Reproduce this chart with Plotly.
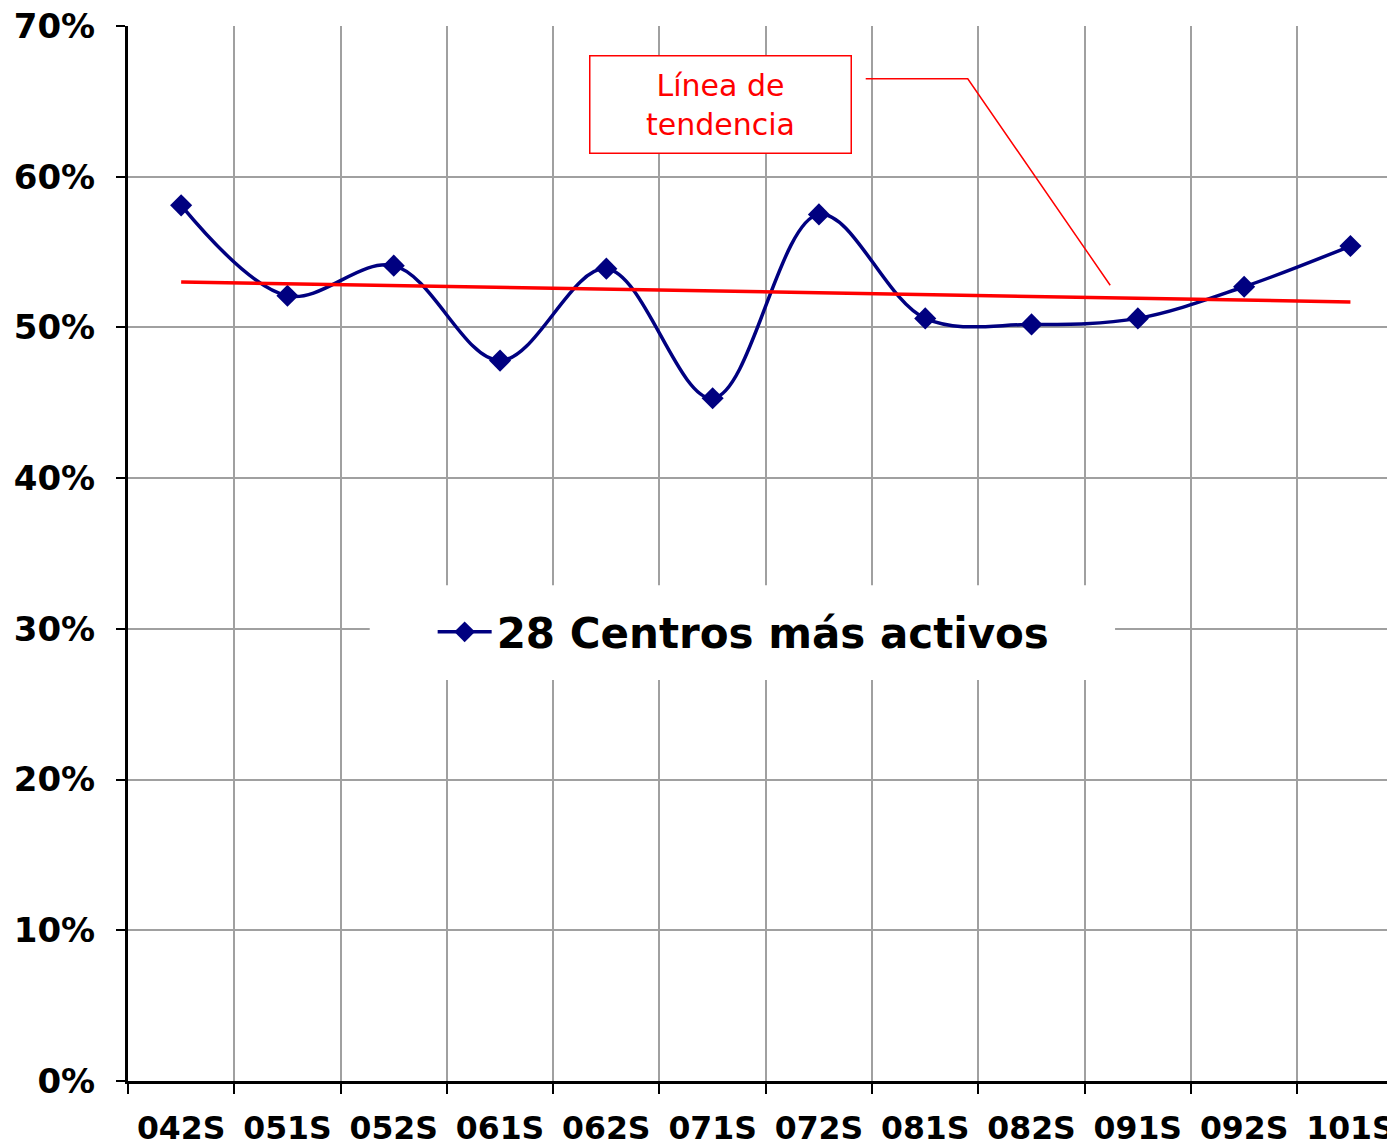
import numpy as np
import plotly.graph_objects as go

# Semesters and share of activity (%) for the 28 most active centres
semestres = ["042S", "051S", "052S", "061S", "062S", "071S",
             "072S", "081S", "082S", "091S", "092S", "101S"]
porcentaje = [58.1, 52.1, 54.1, 47.8, 53.9, 45.3,
              57.5, 50.6, 50.2, 50.6, 52.7, 55.4]
y_ticks = [0, 10, 20, 30, 40, 50, 60, 70]
y_labels = [f"{v}%" for v in y_ticks]

serie_nombre = "28 Centros más activos"
nota_tendencia = "Línea de<br>tendencia"

NAVY = "#000080"
RED = "#FF0000"
GRID = "#A0A0A0"
FONT = "DejaVu Sans"

# Linear least-squares trend through the series
idx = np.arange(len(semestres))
pend, orden = np.polyfit(idx, porcentaje, 1)
tendencia = pend * idx + orden

fig = go.Figure()

fig.add_trace(go.Scatter(
    x=semestres, y=porcentaje, mode="lines+markers",
    name=serie_nombre,
    line=dict(color=NAVY, width=3.5, shape="spline", smoothing=1),
    marker=dict(symbol="diamond", size=17, color=NAVY),
))

fig.add_trace(go.Scatter(
    x=semestres, y=tendencia, mode="lines",
    line=dict(color=RED, width=3.5),
    showlegend=False, hoverinfo="skip",
))

# White panel behind the legend
fig.add_shape(type="rect", xref="paper", yref="paper",
              x0=0.192, x1=0.784, y0=0.380, y1=0.470,
              fillcolor="white", line=dict(width=0), layer="above")

# Leader line from the note towards the trend line
fig.add_shape(type="path", xref="x", yref="y",
              path="M 6.44,66.5 L 7.40,66.5 L 8.74,52.8",
              line=dict(color=RED, width=1.5), layer="above")

fig.add_annotation(
    xref="paper", yref="paper", x=0.471, y=0.926,
    xanchor="center", yanchor="middle",
    text=nota_tendencia, showarrow=False,
    font=dict(family=FONT, size=30, color=RED),
    align="center", width=258, height=94,
    bordercolor=RED, borderwidth=1.5, bgcolor="white",
)

fig.update_layout(
    width=1387, height=1147,
    margin=dict(l=128, r=0, t=26, b=66, autoexpand=False),
    paper_bgcolor="white", plot_bgcolor="white",
    font=dict(family=FONT, color="black"),
    showlegend=True,
    legend=dict(
        x=0.489, y=0.4256, xanchor="center", yanchor="middle",
        bgcolor="rgba(0,0,0,0)", borderwidth=0,
        font=dict(family=FONT, size=42, color="black", weight="bold"),
        itemwidth=54,
    ),
)

fig.update_xaxes(
    type="category", range=[-0.5, 11.344], automargin=False,
    tickson="boundaries", ticks="outside", ticklen=10, tickwidth=2,
    tickcolor="black",
    showgrid=True, gridcolor=GRID, gridwidth=2,
    showline=True, linecolor="black", linewidth=3,
    tickfont=dict(family=FONT, size=31.5, color="black", weight="bold"),
    ticklabelstandoff=17,
    zeroline=False,
)

fig.update_yaxes(
    range=[0, 70], tickvals=y_ticks, ticktext=y_labels, automargin=False,
    ticks="outside", ticklen=9, tickwidth=2, tickcolor="black",
    showgrid=True, gridcolor=GRID, gridwidth=2,
    showline=True, linecolor="black", linewidth=3,
    tickfont=dict(family=FONT, size=34, color="black", weight="bold"),
    ticklabelstandoff=14,
    zeroline=False,
)

fig.write_html("out.html")
